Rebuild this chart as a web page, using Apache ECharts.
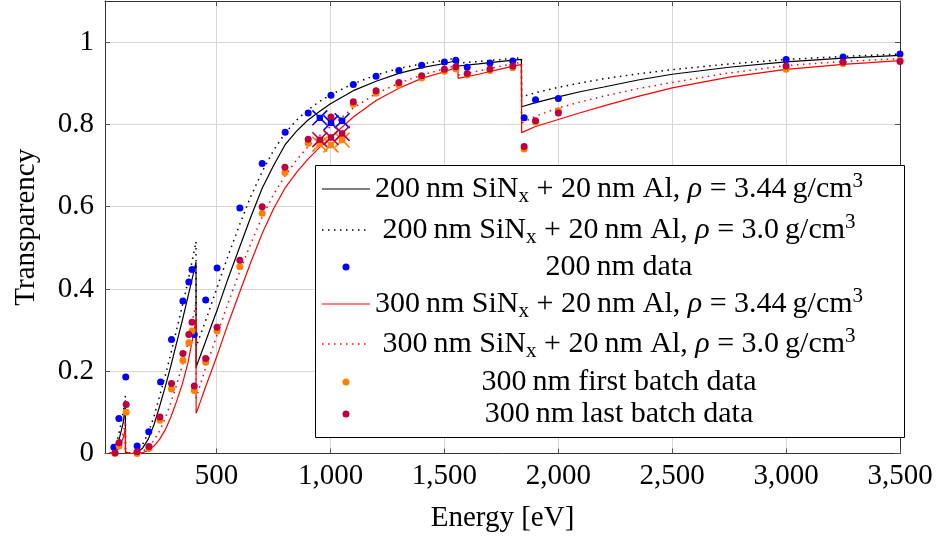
<!DOCTYPE html>
<html><head><meta charset="utf-8">
<script src="https://cdn.jsdelivr.net/npm/echarts@6/dist/echarts.min.js"></script>
<style>html,body{margin:0;padding:0;background:#fff}#c{width:937px;height:538px}</style>
</head><body><div id="c"></div>
<script>
// ---- model curves (energy in eV, transparency) ----
const modelEnergy = [30,50,70,90,99.5,100,110,130,150,175,200,225,250,275,300,325,350,375,400,409.5,410,430,450,475,500,550,600,650,700,750,800,850,900,950,1000,1100,1200,1300,1400,1500,1559,1560,1650,1750,1838,1839,1900,2000,2100,2200,2350,2500,2750,3000,3250,3500];
const model200Rho344 = [0,0.003,0.03,0.075,0.115,0.004,0.001,0,0.003,0.013,0.035,0.07,0.115,0.163,0.215,0.27,0.325,0.383,0.442,0.465,0.21,0.24,0.27,0.308,0.345,0.425,0.50,0.575,0.645,0.70,0.75,0.783,0.81,0.831,0.85,0.882,0.905,0.924,0.938,0.948,0.956,0.942,0.947,0.953,0.958,0.843,0.853,0.867,0.880,0.891,0.908,0.922,0.939,0.952,0.961,0.968];
const model200Rho30 = [0,0.006,0.045,0.10,0.14,0.008,0.002,0.001,0.006,0.022,0.05,0.09,0.14,0.19,0.245,0.302,0.36,0.42,0.488,0.515,0.26,0.29,0.32,0.36,0.40,0.48,0.555,0.625,0.685,0.737,0.778,0.81,0.835,0.855,0.872,0.899,0.92,0.936,0.947,0.956,0.962,0.949,0.953,0.958,0.962,0.867,0.877,0.89,0.901,0.911,0.923,0.933,0.947,0.958,0.965,0.971];
const model300Rho344 = [0,0.001,0.012,0.038,0.06,0.001,0,0,0,0.002,0.008,0.018,0.035,0.058,0.09,0.128,0.17,0.222,0.295,0.325,0.098,0.128,0.16,0.197,0.235,0.315,0.39,0.465,0.535,0.595,0.645,0.683,0.715,0.743,0.768,0.818,0.858,0.888,0.912,0.928,0.94,0.912,0.922,0.935,0.946,0.78,0.795,0.812,0.829,0.845,0.868,0.889,0.915,0.934,0.946,0.955];
const model300Rho30 = [0,0.002,0.02,0.05,0.08,0.002,0,0,0.001,0.005,0.015,0.032,0.055,0.087,0.125,0.168,0.215,0.27,0.34,0.365,0.135,0.17,0.205,0.245,0.285,0.365,0.44,0.51,0.575,0.63,0.675,0.713,0.745,0.772,0.795,0.84,0.875,0.90,0.92,0.935,0.945,0.92,0.93,0.942,0.951,0.803,0.82,0.84,0.855,0.869,0.887,0.902,0.925,0.943,0.953,0.96];

// ---- measured data ----
const data200Energy = [49,71,101,151,202,254,302,352,378,392,402,452,502,602,700,801,902,1002,1100,1200,1300,1400,1500,1550,1600,1700,1800,1850,1900,2000,3000,3250,3500];
const data200 = [0.015,0.085,0.186,0.018,0.053,0.174,0.277,0.371,0.417,0.447,0.289,0.373,0.451,0.597,0.705,0.781,0.828,0.871,0.897,0.917,0.931,0.944,0.952,0.956,0.939,0.949,0.954,0.816,0.860,0.863,0.958,0.964,0.971];
const data300FirstEnergy = [54,72,103,151,203,251,302,352,378,392,402,452,502,602,700,800,902,1100,1200,1300,1400,1500,1550,1600,1700,1800,1850,1900,2000,3000,3250,3500];
const data300First = [0.0,0.018,0.100,0.0,0.012,0.081,0.157,0.226,0.269,0.298,0.153,0.222,0.298,0.454,0.584,0.683,0.754,0.849,0.876,0.896,0.913,0.929,0.935,0.920,0.931,0.938,0.740,0.806,0.833,0.934,0.948,0.956];
const data300LastEnergy = [54,72,103,151,203,251,302,352,378,392,402,452,502,602,700,800,902,1002,1100,1200,1300,1400,1500,1550,1600,1700,1800,1850,1900,2000,3000,3250,3500];
const data300Last = [0.002,0.026,0.119,0.004,0.017,0.089,0.170,0.243,0.289,0.319,0.164,0.231,0.307,0.470,0.600,0.696,0.764,0.818,0.855,0.882,0.902,0.918,0.934,0.940,0.924,0.935,0.942,0.746,0.809,0.828,0.942,0.951,0.953];
const crossEnergy = [953,1002,1051];
const cross200 = [0.816,0.804,0.809];
const cross300First = [0.752,0.750,0.762];
const cross300Last = [0.763,0.768,0.778];

// ---- ticks ----
const xTicks = [500,1000,1500,2000,2500,3000,3500];
const yTicks = [0,0.2,0.4,0.6,0.8,1];

// ---- legend texts ----
const legendNames = [
  '200 nm SiNx + 20 nm Al, ρ = 3.44 g/cm3',
  '200 nm SiNx + 20 nm Al, ρ = 3.0 g/cm3',
  '200 nm data',
  '300 nm SiNx + 20 nm Al, ρ = 3.44 g/cm3',
  '300 nm SiNx + 20 nm Al, ρ = 3.0 g/cm3',
  '300 nm first batch data',
  '300 nm last batch data'
];
const legendRich = [
  '{n|200\u2009nm SiN}{sub|x}{n| + 20\u2009nm Al, }{it|ρ}{n| = 3.44\u2009g/cm}{sup|3}',
  '{n|200\u2009nm SiN}{sub|x}{n| + 20\u2009nm Al, }{it|ρ}{n| = 3.0\u2009g/cm}{sup|3}',
  '{n|200\u2009nm data}',
  '{n|300\u2009nm SiN}{sub|x}{n| + 20\u2009nm Al, }{it|ρ}{n| = 3.44\u2009g/cm}{sup|3}',
  '{n|300\u2009nm SiN}{sub|x}{n| + 20\u2009nm Al, }{it|ρ}{n| = 3.0\u2009g/cm}{sup|3}',
  '{n|300\u2009nm first batch data}',
  '{n|300\u2009nm last batch data}'
];

const F = "'Liberation Serif','DejaVu Serif',serif";
const zip = (xs, ys) => xs.map((x, i) => [x, ys[i]]);
const crossPath = 'path://M6,6H14V14H6Z M0,1.4 L1.4,0 L20,18.6 L18.6,20Z M18.6,0 L20,1.4 L1.4,20 L0,18.6Z';

const C = {black:'#000000', blue:'#0000ff', red:'#ff0000', orange:'#ff8000', purple:'#bf0040'};
const dotted = [1.5, 4.5];

const styles = [
  {kind:'line', color:C.black, dash:null},
  {kind:'line', color:C.black, dash:dotted},
  {kind:'dot', color:C.blue},
  {kind:'line', color:C.red, dash:null},
  {kind:'line', color:C.red, dash:dotted},
  {kind:'dot', color:C.orange},
  {kind:'dot', color:C.purple}
];

function lineSeries(i, vals) {
  const s = styles[i];
  return {name: legendNames[i], type:'line', data: zip(modelEnergy, vals), symbol:'none', showSymbol:false,
    clip:true, lineStyle:{color:s.color, width: s.dash ? 1.5 : 1.2, type: s.dash ? s.dash : 'solid'}, z:2};
}
function scatterSeries(i, xs, ys) {
  return {name: legendNames[i], type:'scatter', data: zip(xs, ys), symbol:'circle', symbolSize:7,
    itemStyle:{color:styles[i].color, opacity:1}, z:3};
}
function crossSeries(name, color, ys) {
  return {name, type:'scatter', data: zip(crossEnergy, ys), symbol: crossPath, symbolSize:16,
    itemStyle:{color, opacity:1}, z:3};
}

const LF = 30;
const legendRowY = [189, 230, 267, 304, 344, 382, 414];
const graphic = [{type:'rect', z:100, shape:{x:315.5, y:165.5, width:589, height:272},
  style:{fill:'#fff', stroke:'#000', lineWidth:1}}];
legendRowY.forEach((y, i) => {
  const s = styles[i];
  if (s.kind === 'line') {
    graphic.push({type:'line', z:101, shape:{x1:322, y1:y, x2:370, y2:y},
      style:{stroke:s.color, lineWidth: s.dash ? 1.5 : 1.2, lineDash: s.dash || null}});
  } else {
    graphic.push({type:'circle', z:101, shape:{cx:346, cy:y, r:3.5}, style:{fill:s.color}});
  }
  graphic.push({type:'text', z:101, x:619, y:y, style:{
    text: legendRich[i], fill:'#000', textAlign:'center', align:'center', textVerticalAlign:'middle', verticalAlign:'middle',
    fontFamily:F, fontSize:LF,
    rich:{
      n:{fontFamily:F, fontSize:LF, fill:'#000'},
      it:{fontFamily:F, fontSize:LF, fontStyle:'italic', fill:'#000'},
      sub:{fontFamily:F, fontSize:21, padding:[15,0,0,0], fill:'#000'},
      sup:{fontFamily:F, fontSize:21, verticalAlign:'top', fill:'#000'}
    }}});
});

const axisColor = '#333333';
const tickColor = '#555555';
const gridColor = '#d6d6d6';
const TF = 29;

const option = {
  animation:false,
  backgroundColor:'#ffffff',
  grid:{left:105, right:37, top:1, bottom:84.5},
  xAxis:[
    {type:'value', min:10, max:3500, position:'bottom',
     axisLine:{show:true, onZero:false, lineStyle:{color:axisColor, width:1}},
     axisTick:{show:true, inside:true, length:5, customValues:xTicks, lineStyle:{color:tickColor}},
     axisLabel:{customValues:xTicks, formatter:v => Number(v).toLocaleString('en-US'), fontFamily:F, fontSize:TF, color:'#000', margin:8},
     splitLine:{show:true, lineStyle:{color:gridColor, width:1}},
     name:'Energy [eV]', nameLocation:'middle', nameGap:50,
     nameTextStyle:{fontFamily:F, fontSize:TF, color:'#000'}},
    {type:'value', min:10, max:3500, position:'top',
     axisLine:{show:true, onZero:false, lineStyle:{color:axisColor, width:1}},
     axisTick:{show:true, inside:true, length:5, customValues:xTicks, lineStyle:{color:tickColor}},
     axisLabel:{show:false}, splitLine:{show:false}}
  ],
  yAxis:[
    {type:'value', min:0, max:1.1, position:'left',
     axisLine:{show:true, onZero:false, lineStyle:{color:axisColor, width:1}},
     axisTick:{show:true, inside:true, length:5, customValues:yTicks, lineStyle:{color:tickColor}},
     axisLabel:{customValues:yTicks, formatter:v => String(v), fontFamily:F, fontSize:TF, color:'#000', margin:11},
     splitLine:{show:true, lineStyle:{color:gridColor, width:1}},
     name:'Transparency', nameLocation:'middle', nameGap:64, nameRotate:90,
     nameTextStyle:{fontFamily:F, fontSize:TF, color:'#000'}},
    {type:'value', min:0, max:1.1, position:'right',
     axisLine:{show:true, onZero:false, lineStyle:{color:axisColor, width:1}},
     axisTick:{show:true, inside:true, length:5, customValues:yTicks, lineStyle:{color:tickColor}},
     axisLabel:{show:false}, splitLine:{show:false}}
  ],
  series:[
    lineSeries(0, model200Rho344),
    lineSeries(1, model200Rho30),
    scatterSeries(2, data200Energy, data200),
    crossSeries('200 nm data (crossed)', C.blue, cross200),
    lineSeries(3, model300Rho344),
    lineSeries(4, model300Rho30),
    scatterSeries(5, data300FirstEnergy, data300First),
    crossSeries('300 nm first batch data (crossed)', C.orange, cross300First),
    scatterSeries(6, data300LastEnergy, data300Last),
    crossSeries('300 nm last batch data (crossed)', C.purple, cross300Last)
  ],
  graphic: graphic
};

const chart = echarts.init(document.getElementById('c'), null, {renderer:'canvas'});
chart.setOption(option);
</script>
</body></html>
